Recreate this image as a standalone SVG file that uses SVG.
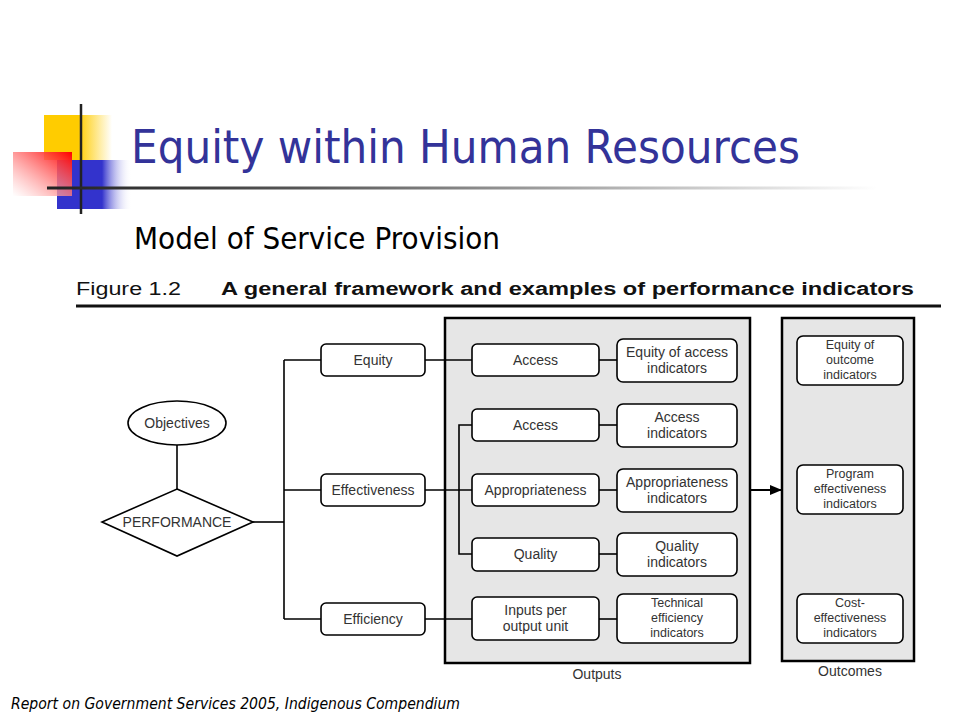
<svg xmlns="http://www.w3.org/2000/svg" width="960" height="720" viewBox="0 0 960 720">
<defs>
<linearGradient id="gY" x1="0" y1="0" x2="1" y2="0"><stop offset="0" stop-color="#FFCC00"/><stop offset="0.5" stop-color="#FFCC00"/><stop offset="1" stop-color="#FFFFFF"/></linearGradient>
<linearGradient id="gB" x1="0" y1="0" x2="1" y2="0"><stop offset="0" stop-color="#3333CC"/><stop offset="0.6" stop-color="#3333CC"/><stop offset="1" stop-color="#FFFFFF" stop-opacity="0"/></linearGradient>
<linearGradient id="gR" x1="1" y1="0" x2="0" y2="1"><stop offset="0" stop-color="#FF0000"/><stop offset="1" stop-color="#FFFFFF" stop-opacity="0.6"/></linearGradient>
<linearGradient id="gL" x1="0" y1="0" x2="1" y2="0"><stop offset="0" stop-color="#222222"/><stop offset="0.3" stop-color="#555555"/><stop offset="1" stop-color="#FFFFFF"/></linearGradient>
<marker id="arr" viewBox="0 0 12 10" refX="12" refY="5" markerWidth="12" markerHeight="10" markerUnits="userSpaceOnUse" orient="auto"><path d="M0,0 L12,5 L0,10 z" fill="#000"/></marker>
<style>
.box{fill:#fff;stroke:#000;stroke-width:1.6}
.panel{fill:#e6e6e6;stroke:#000;stroke-width:2.5}
.ln{fill:none;stroke:#000;stroke-width:1.6}
.t{font-family:"Liberation Sans",Arial,sans-serif;font-size:14px;fill:#333;text-anchor:middle}
.t3{font-family:"Liberation Sans",Arial,sans-serif;font-size:12.5px;fill:#333;text-anchor:middle}
</style>
</defs>
<rect width="960" height="720" fill="#fff"/>
<!-- decoration -->
<rect x="44" y="115" width="68" height="45" fill="url(#gY)"/>
<rect x="57" y="160" width="75" height="49" fill="url(#gB)"/>
<rect x="13" y="152" width="59" height="44" fill="url(#gR)"/>
<line x1="81" y1="104" x2="81" y2="214" stroke="#222" stroke-width="2.5"/>
<rect x="47" y="186.5" width="830" height="3" fill="url(#gL)"/>
<text x="131" y="163" font-family="Tahoma,'DejaVu Sans',sans-serif" font-size="46" fill="#333399" textLength="669" lengthAdjust="spacingAndGlyphs">Equity within Human Resources</text>
<text x="134" y="249" font-family="Tahoma,'DejaVu Sans',sans-serif" font-size="30" fill="#000" textLength="366" lengthAdjust="spacingAndGlyphs">Model of Service Provision</text>
<text x="76" y="295" font-family="'Liberation Sans',Arial,sans-serif" font-size="18" fill="#111" textLength="105" lengthAdjust="spacingAndGlyphs">Figure 1.2</text>
<text x="221" y="295" font-family="'Liberation Sans',Arial,sans-serif" font-size="18" font-weight="bold" fill="#111" textLength="693" lengthAdjust="spacingAndGlyphs">A general framework and examples of performance indicators</text>
<line x1="76" y1="306" x2="941" y2="306" stroke="#111" stroke-width="3"/>
<text x="11" y="709" font-family="Tahoma,'DejaVu Sans',sans-serif" font-style="italic" font-size="15" fill="#000" textLength="449" lengthAdjust="spacingAndGlyphs">Report on Government Services 2005, Indigenous Compendium</text>

<!-- panels -->
<g id="outputs">
<rect class="panel" x="445" y="318" width="305" height="345"/>
<text class="t" x="597" y="679">Outputs</text>
</g>
<g id="outcomes">
<rect class="panel" x="782" y="318" width="132" height="343"/>
<text class="t" x="850" y="676">Outcomes</text>
</g>

<!-- connectors -->
<g id="connectors">
<line class="ln" x1="177" y1="445" x2="177" y2="489"/>
<line class="ln" x1="253" y1="522" x2="284" y2="522"/>
<line class="ln" x1="284" y1="360" x2="284" y2="619"/>
<line class="ln" x1="284" y1="360" x2="321" y2="360"/>
<line class="ln" x1="284" y1="490" x2="321" y2="490"/>
<line class="ln" x1="284" y1="619" x2="321" y2="619"/>
<line class="ln" x1="425" y1="360" x2="472" y2="360"/>
<line class="ln" x1="425" y1="490" x2="472" y2="490"/>
<line class="ln" x1="425" y1="619" x2="472" y2="619"/>
<polyline class="ln" points="472,425 459,425 459,554 472,554"/>
<line class="ln" x1="599" y1="360" x2="617" y2="360"/>
<line class="ln" x1="599" y1="425" x2="617" y2="425"/>
<line class="ln" x1="599" y1="490" x2="617" y2="490"/>
<line class="ln" x1="599" y1="554" x2="617" y2="554"/>
<line class="ln" x1="599" y1="619" x2="617" y2="619"/>
<line x1="750" y1="490" x2="782" y2="490" stroke="#000" stroke-width="2" marker-end="url(#arr)"/>
</g>

<!-- left nodes -->
<g id="objectives">
<ellipse class="box" cx="177" cy="423" rx="49" ry="22"/>
<text class="t" x="177" y="428">Objectives</text>
</g>
<g id="performance">
<polygon class="box" points="177,489 253,522 177,556 102,522"/>
<text class="t" x="177" y="527">PERFORMANCE</text>
</g>
<g id="equity">
<rect class="box" x="321" y="344" width="104" height="32" rx="5"/>
<text class="t" x="373" y="365">Equity</text>
</g>
<g id="effectiveness">
<rect class="box" x="321" y="474" width="104" height="32" rx="5"/>
<text class="t" x="373" y="495">Effectiveness</text>
</g>
<g id="efficiency">
<rect class="box" x="321" y="603" width="104" height="32" rx="5"/>
<text class="t" x="373" y="624">Efficiency</text>
</g>

<!-- output left column -->
<g id="access1">
<rect class="box" x="472" y="344" width="127" height="32" rx="5"/>
<text class="t" x="535.5" y="365">Access</text>
</g>
<g id="access2">
<rect class="box" x="472" y="409" width="127" height="32" rx="5"/>
<text class="t" x="535.5" y="430">Access</text>
</g>
<g id="appropriateness">
<rect class="box" x="472" y="474" width="127" height="32" rx="5"/>
<text class="t" x="535.5" y="495">Appropriateness</text>
</g>
<g id="quality">
<rect class="box" x="472" y="538" width="127" height="33" rx="5"/>
<text class="t" x="535.5" y="559">Quality</text>
</g>
<g id="inputs">
<rect class="box" x="472" y="597" width="127" height="43" rx="5"/>
<text class="t" x="535.5" y="615">Inputs per</text>
<text class="t" x="535.5" y="631">output unit</text>
</g>

<!-- output right column -->
<g id="equity-access-ind">
<rect class="box" x="617" y="339" width="120" height="43" rx="6"/>
<text class="t" x="677" y="357">Equity of access</text>
<text class="t" x="677" y="373">indicators</text>
</g>
<g id="access-ind">
<rect class="box" x="617" y="404" width="120" height="43" rx="6"/>
<text class="t" x="677" y="422">Access</text>
<text class="t" x="677" y="438">indicators</text>
</g>
<g id="appropriateness-ind">
<rect class="box" x="617" y="469" width="120" height="43" rx="6"/>
<text class="t" x="677" y="487">Appropriateness</text>
<text class="t" x="677" y="503">indicators</text>
</g>
<g id="quality-ind">
<rect class="box" x="617" y="533" width="120" height="43" rx="6"/>
<text class="t" x="677" y="551">Quality</text>
<text class="t" x="677" y="567">indicators</text>
</g>
<g id="technical-ind">
<rect class="box" x="617" y="594" width="120" height="49" rx="6"/>
<text class="t3" x="677" y="607">Technical</text>
<text class="t3" x="677" y="622">efficiency</text>
<text class="t3" x="677" y="637">indicators</text>
</g>

<!-- outcomes -->
<g id="equity-outcome-ind">
<rect class="box" x="797" y="336" width="106" height="49" rx="6"/>
<text class="t3" x="850" y="349">Equity of</text>
<text class="t3" x="850" y="364">outcome</text>
<text class="t3" x="850" y="379">indicators</text>
</g>
<g id="program-ind">
<rect class="box" x="797" y="465" width="106" height="49" rx="6"/>
<text class="t3" x="850" y="478">Program</text>
<text class="t3" x="850" y="493">effectiveness</text>
<text class="t3" x="850" y="508">indicators</text>
</g>
<g id="cost-ind">
<rect class="box" x="797" y="594" width="106" height="49" rx="6"/>
<text class="t3" x="850" y="607">Cost-</text>
<text class="t3" x="850" y="622">effectiveness</text>
<text class="t3" x="850" y="637">indicators</text>
</g>
</svg>
